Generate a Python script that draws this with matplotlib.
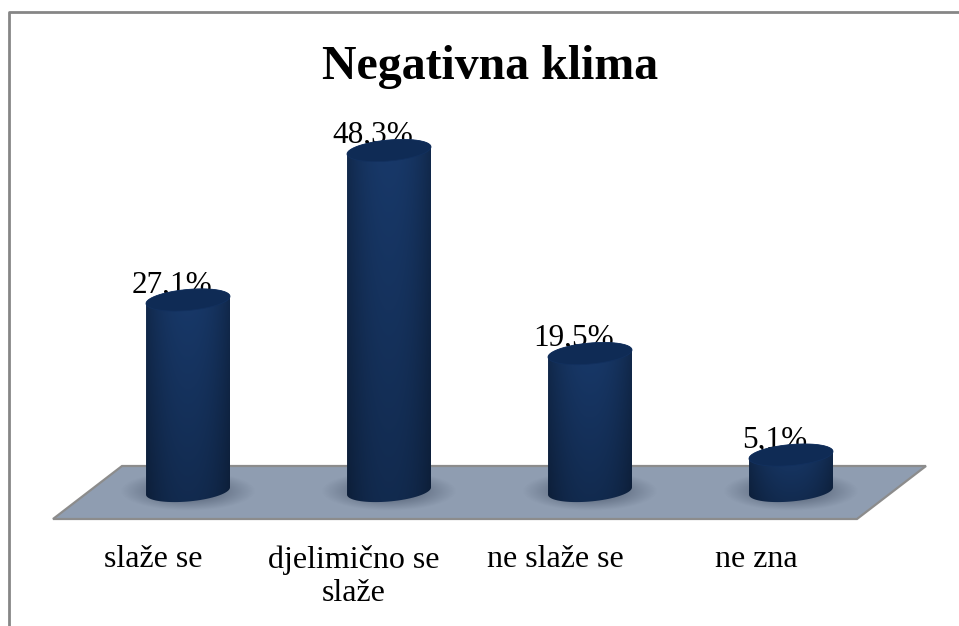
import numpy as np
import matplotlib
matplotlib.use('Agg')
import matplotlib.pyplot as plt
from matplotlib.patches import Polygon
from matplotlib.transforms import IdentityTransform
from matplotlib.colors import LinearSegmentedColormap

categories = ['slaže se', 'djelimično se\nslaže', 'ne slaže se', 'ne zna']
values = [27.1, 48.3, 19.5, 5.1]
value_labels = ['27,1%', '48,3%', '19,5%', '5,1%']

W, H = 959, 626
plt.rcParams['font.family'] = ['Liberation Serif', 'DejaVu Serif']
plt.rcParams['text.kerning_factor'] = 6

fig = plt.figure(figsize=(W / 100, H / 100), dpi=100)
ax = fig.add_axes([0, 0, 1, 1])
ax.axis('off')
ax.set_autoscale_on(False)
# index 0 at px 188, step 201 px; value 0 at px 491, 7.05 px per percent
ax.set_xlim((0 - 188) / 201, (W - 188) / 201)
ax.set_ylim((491 - H) / 7.05, 491 / 7.05)
ident = IdentityTransform()


def px(x, y):
    # image pixel -> display coords (y up)
    return x, H - y


# frame: only top and left show on the picture
fx, fy = zip(*[px(9, H), px(9, 12), px(W, 12)])
ax.add_line(plt.Line2D(fx, fy, color='#868686', lw=2, transform=ident))

# floor
floor = Polygon([px(122, 466), px(926, 466), px(857, 519), px(53, 519)], closed=True,
                facecolor='#8f9db1', edgecolor='#8c8c8c', lw=1.6, transform=ident, zorder=1)
ax.add_patch(floor)

# data labels sit behind the cylinders
for i, v in enumerate(values):
    cx, cy = ax.transData.transform((i, v))
    ax.text(cx - 16, cy + 7.5, value_labels[i], transform=ident, ha='center', va='baseline',
            fontsize=22.5, color='black', zorder=2)

shadow_cmap = LinearSegmentedColormap.from_list('shadow', [(0.2, 0.25, 0.33, 0), (0.2, 0.25, 0.33, 0.8)])


def ellipse_pts(cx, cy, a=42, b=10.5, tilt=0.085, n=80):
    t = np.linspace(0, 2 * np.pi, n)
    return np.column_stack([cx + a * np.cos(t), cy + b * np.sin(t) + tilt * a * np.cos(t)])


def side_image():
    # lighter in the middle and at the top, darker towards edges and bottom
    u = np.linspace(-1, 1, 84)
    w = np.linspace(1, 0, 60)
    across = 0.72 + 0.28 * (1 - np.abs(u) ** 2.2)
    down = 0.74 + 0.26 * w
    light = np.outer(down, across)[:, :, None]
    return np.clip(np.array([24, 57, 106])[None, None, :] / 255 * light, 0, 1)


for i, v in enumerate(values):
    cx, top = ax.transData.transform((i, v))
    _, base = ax.transData.transform((i, 0))

    # soft shadow on the floor
    xx, yy = np.meshgrid(np.linspace(-1, 1, 120), np.linspace(-1, 1, 60))
    im = ax.imshow(np.clip(1 - np.hypot(xx, yy), 0, 1), cmap=shadow_cmap, vmin=0, vmax=1,
                   extent=(cx - 68, cx + 68, base - 20, base + 20), aspect='auto',
                   transform=ident, zorder=1.5, interpolation='bilinear')
    im.set_clip_path(floor)

    # side of the cylinder, gradient clipped to its outline
    low = ellipse_pts(cx, base)
    up = ellipse_pts(cx, top)
    body = Polygon(np.vstack([low[40:], up[:40]]), closed=True, facecolor='none', edgecolor='none',
                   transform=ident, zorder=3)
    ax.add_patch(body)
    im = ax.imshow(side_image(), extent=(cx - 42, cx + 42, base - 14, top + 14), aspect='auto',
                   transform=ident, zorder=3, interpolation='bilinear')
    im.set_clip_path(body)

    ax.add_patch(Polygon(up, closed=True, facecolor='#0f2b55', edgecolor='#12305e', lw=0.6,
                         transform=ident, zorder=4))

# category labels
for i, c in enumerate(categories):
    cx, _ = ax.transData.transform((i, 0))
    x, y = px(cx - 35, 545)
    ax.text(x, y, c, transform=ident, ha='center', va='top', fontsize=23, color='black', linespacing=1.2)

x, y = px(490, 79)
ax.text(x, y, 'Negativna klima', transform=ident, ha='center', va='baseline', fontsize=34.5,
        fontweight='bold', color='black')

fig.savefig('out.png', dpi=100)
